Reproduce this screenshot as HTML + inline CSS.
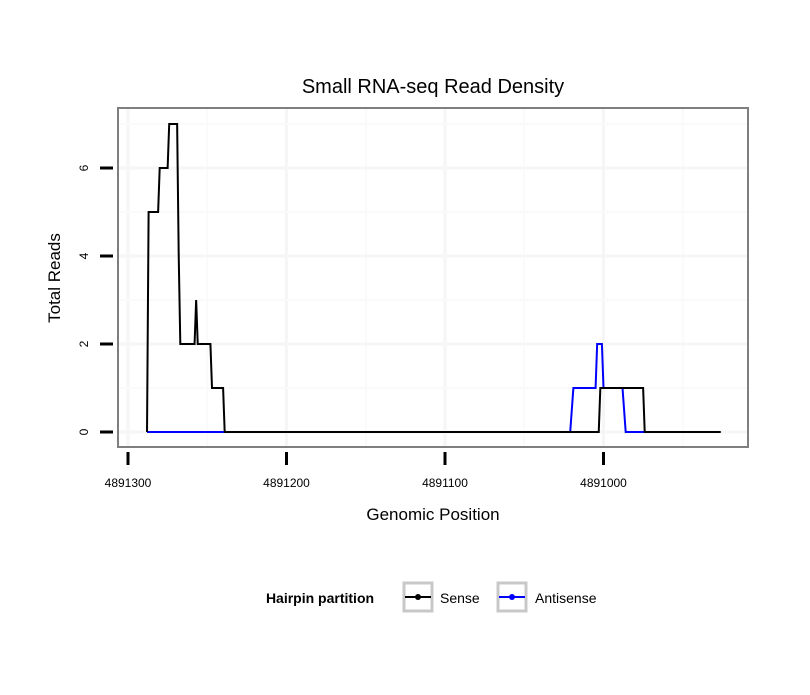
<!DOCTYPE html>
<html><head><meta charset="utf-8"><style>body{margin:0;background:#fff;font-family:"Liberation Sans",sans-serif}</style></head>
<body>
<svg id="chart" width="810" height="690" xmlns="http://www.w3.org/2000/svg">
<rect width="810" height="690" fill="#fff"/>
<text x="433" y="93" font-size="20" text-anchor="middle">Small RNA-seq Read Density</text>
<g id="grid"></g>
<g id="series"></g>
<rect x="118" y="108" width="630" height="339" fill="none" stroke="#7f7f7f" stroke-width="2"/>
<g id="axes"></g>
<text x="433" y="520" font-size="17" text-anchor="middle">Genomic Position</text>
<text x="60" y="278" font-size="17" text-anchor="middle" transform="rotate(-90 60 278)">Total Reads</text>
<g>
<text x="320" y="603" font-size="14" font-weight="bold" text-anchor="middle">Hairpin partition</text>
<g>
<rect x="404" y="583" width="28" height="28" fill="#fff" stroke="#c8c8c8" stroke-width="3"/>
<line x1="405" y1="597" x2="431" y2="597" stroke="#000" stroke-width="2"/><circle cx="418" cy="597" r="3" fill="#000"/>
<text x="440" y="603" font-size="14">Sense</text></g>
<g>
<rect x="498" y="583" width="28" height="28" fill="#fff" stroke="#c8c8c8" stroke-width="3"/>
<line x1="499" y1="597" x2="525" y2="597" stroke="#00f" stroke-width="2"/><circle cx="512" cy="597" r="3" fill="#00f"/>
<text x="535" y="603" font-size="14">Antisense</text></g>
</g>
</svg>
<script>
const xTicks=[4891300,4891200,4891100,4891000];
const yTicks=[0,2,4,6];
const sensePos=[4891288,4891287,4891281,4891280,4891275,4891274,4891269,4891268,4891267,4891258,4891257,4891256,4891248,4891247,4891240,4891239,4891003,4891002,4890975,4890974,4890926];
const senseVal=[0,5,5,6,6,7,7,4,2,2,3,2,2,1,1,0,0,1,1,0,0];
const antiPos=[4891288,4891021,4891019,4891005,4891004,4891001,4891000,4890988,4890986,4890974];
const antiVal=[0,0,1,1,2,2,1,1,0,0];
const NS="http://www.w3.org/2000/svg";
const X=v=>128+(4891300-v)*1.585;
const Y=v=>432-v*44;
function mk(tag,at,parent){const e=document.createElementNS(NS,tag);for(const k in at)e.setAttribute(k,at[k]);parent.appendChild(e);return e;}
const grid=document.getElementById('grid'),axes=document.getElementById('axes'),ser=document.getElementById('series');
for(let i=0;i<xTicks.length;i++){
 const v=xTicks[i];
 [v,v-50].forEach((g,j)=>{const x=X(g);if(x>118&&x<748){const l=mk('line',{x1:x,x2:x,y1:109,y2:446,stroke:j?'#fafafa':'#f6f6f6','stroke-width':j?2:3},grid);
 
 }});
 const t=mk('line',{x1:X(v),x2:X(v),y1:452,y2:465,stroke:'#000','stroke-width':3},axes);
 
 
 const tx=mk('text',{x:X(v),y:487,'font-size':12,'text-anchor':'middle'},axes);tx.textContent=v;
 
 
}
for(let i=0;i<yTicks.length;i++){
 const v=yTicks[i];
 [v,v+1].forEach((g,j)=>{const l=mk('line',{x1:119,x2:747,y1:Y(g),y2:Y(g),stroke:j?'#fafafa':'#f6f6f6','stroke-width':j?2:3},grid);
 
 });
 const t=mk('line',{x1:100,x2:113,y1:Y(v),y2:Y(v),stroke:'#000','stroke-width':3},axes);
 
 
 const tx=mk('text',{x:88,y:Y(v),'font-size':12,'text-anchor':'middle',transform:`rotate(-90 88 ${Y(v)})`},axes);tx.textContent=v;
 
 
}
function line(pos,val,col,name){
 const p=mk('polyline',{points:pos.map((q,i)=>X(q)+','+Y(val[i])).join(' '),fill:'none',stroke:col,'stroke-width':2},ser);
 
 
}
line(antiPos,antiVal,'#00f','antisense-line');
line(sensePos,senseVal,'#000','sense-line');
</script>
</body></html>
